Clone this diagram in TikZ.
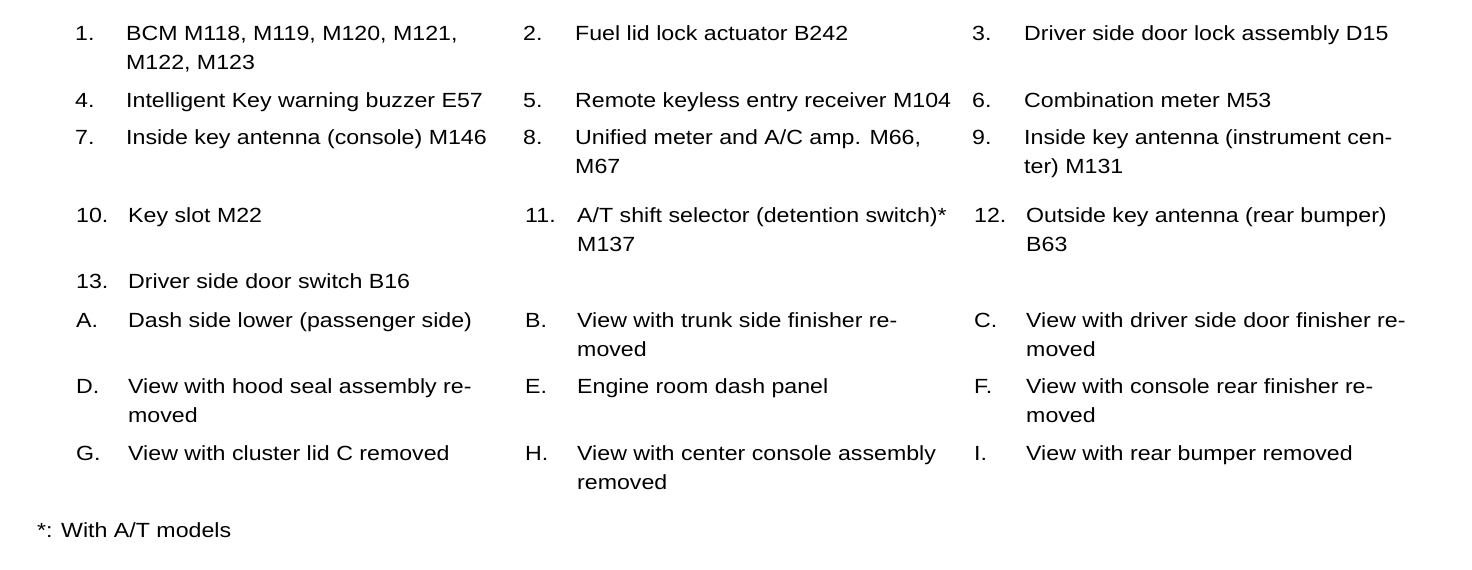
\documentclass[tikz,border=0pt]{standalone}
\usepackage{fontspec}
\setmainfont{Liberation Sans}[FakeStretch=1.13]
\begin{document}
\begin{tikzpicture}[x=1pt,y=-1pt,
        num/.style = {anchor=base west,inner sep=0pt,font=\fontsize{20.5}{29}\selectfont},
        desc/.style = {anchor=north west,yshift=20.3pt,inner sep=0pt,align=left,font=\fontsize{20.5}{29}\selectfont}]
    \useasboundingbox (0,0) rectangle (1472,570);

    \node[num]  (n1)  at (75,40)   {1.};
    \node[desc] (t1)  at (126,40)  {\strut BCM M118, M119, M120, M121,\\M122, M123};
    \node[num]  (n2)  at (523,40)  {2.};
    \node[desc] (t2)  at (575,40)  {\strut Fuel lid lock actuator B242};
    \node[num]  (n3)  at (972,40)  {3.};
    \node[desc] (t3)  at (1024,40) {\strut Driver side door lock assembly D15};

    \node[num]  (n4)  at (75,107)   {4.};
    \node[desc] (t4)  at (126,107)  {\strut Intelligent Key warning buzzer E57};
    \node[num]  (n5)  at (523,107)  {5.};
    \node[desc] (t5)  at (575,107)  {\strut Remote keyless entry receiver M104};
    \node[num]  (n6)  at (972,107)  {6.};
    \node[desc] (t6)  at (1024,107) {\strut Combination meter M53};

    \node[num]  (n7)  at (75,144)   {7.};
    \node[desc] (t7)  at (126,144)  {\strut Inside key antenna (console) M146};
    \node[num]  (n8)  at (523,144)  {8.};
    \node[desc] (t8)  at (575,144)  {\strut Unified meter and A/C amp. M66,\\M67};
    \node[num]  (n9)  at (972,144)  {9.};
    \node[desc] (t9)  at (1024,144) {\strut Inside key antenna (instrument cen-\\ter) M131};

    \node[num]  (n10) at (76,222)   {10.};
    \node[desc] (t10) at (128,222)  {\strut Key slot M22};
    \node[num]  (n11) at (525,222)  {11.};
    \node[desc] (t11) at (577,222)  {\strut A/T shift selector (detention switch)*\\M137};
    \node[num]  (n12) at (974,222)  {12.};
    \node[desc] (t12) at (1026,222) {\strut Outside key antenna (rear bumper)\\B63};

    \node[num]  (n13) at (76,288)   {13.};
    \node[desc] (t13) at (128,288)  {\strut Driver side door switch B16};

    \node[num]  (nA)  at (76,327)   {A.};
    \node[desc] (tA)  at (128,327)  {\strut Dash side lower (passenger side)};
    \node[num]  (nB)  at (525,327)  {B.};
    \node[desc] (tB)  at (577,327)  {\strut View with trunk side finisher re-\\moved};
    \node[num]  (nC)  at (974,327)  {C.};
    \node[desc] (tC)  at (1026,327) {\strut View with driver side door finisher re-\\moved};

    \node[num]  (nD)  at (76,393)   {D.};
    \node[desc] (tD)  at (128,393)  {\strut View with hood seal assembly re-\\moved};
    \node[num]  (nE)  at (525,393)  {E.};
    \node[desc] (tE)  at (577,393)  {\strut Engine room dash panel};
    \node[num]  (nF)  at (974,393)  {F.};
    \node[desc] (tF)  at (1026,393) {\strut View with console rear finisher re-\\moved};

    \node[num]  (nG)  at (76,460)   {G.};
    \node[desc] (tG)  at (128,460)  {\strut View with cluster lid C removed};
    \node[num]  (nH)  at (525,460)  {H.};
    \node[desc] (tH)  at (577,460)  {\strut View with center console assembly\\removed};
    \node[num]  (nI)  at (974,460)  {I.};
    \node[desc] (tI)  at (1026,460) {\strut View with rear bumper removed};

    \node[desc] (note) at (37,537) {\strut *: With A/T models};
\end{tikzpicture}
\end{document}
